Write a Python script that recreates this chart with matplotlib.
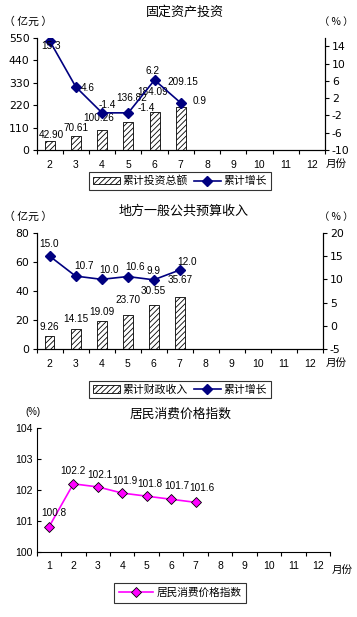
import matplotlib
matplotlib.use('Agg')
import matplotlib.pyplot as plt
from matplotlib.lines import Line2D
from matplotlib.patches import Patch

plt.rcParams['font.family'] = ['Liberation Sans', 'Noto Sans CJK SC', 'DejaVu Sans']
plt.rcParams['hatch.linewidth'] = 0.6
plt.rcParams['axes.linewidth'] = 0.8
plt.rcParams['axes.unicode_minus'] = False

# данные:固定资产投资
inv_months = ['2', '3', '4', '5', '6', '7', '8', '9', '10', '11', '12']
inv_total = [42.90, 70.61, 100.26, 136.82, 184.09, 209.15]
inv_growth = [15.3, 4.6, -1.4, -1.4, 6.2, 0.9]

# данные: 地方一般公共预算收入
rev_months = ['2', '3', '4', '5', '6', '7', '8', '9', '10', '11', '12']
rev_total = [9.26, 14.15, 19.09, 23.70, 30.55, 35.67]
rev_growth = [15.0, 10.7, 10.0, 10.6, 9.9, 12.0]

# данные: 居民消费价格指数
cpi_months = ['1', '2', '3', '4', '5', '6', '7', '8', '9', '10', '11', '12']
cpi_values = [100.8, 102.2, 102.1, 101.9, 101.8, 101.7, 101.6]

W, H = 357, 617
NAVY = '#000080'
MAG = '#FF00FF'
FS = 7.2
CJK = ['Noto Sans CJK SC', 'DejaVu Sans']
YTICK = {'family': 'DejaVu Sans', 'size': 7.8}

fig = plt.figure(figsize=(W / 100, H / 100), dpi=100)


def rect(x0, y0, x1, y1):
    return [x0 / W, 1 - y1 / H, (x1 - x0) / W, (y1 - y0) / H]


def ftext(x, y, s, **kw):
    fig.text(x / W, 1 - y / H, s, **kw)


def setup_cat_axis(ax, labels):
    n = len(labels)
    ax.set_xlim(-0.5, n - 0.5)
    ax.set_xticks([i - 0.5 for i in range(n + 1)])
    ax.set_xticklabels([])
    ax.set_xticks(range(n), minor=True)
    ax.set_xticklabels(labels, minor=True, fontsize=FS + 0.3)
    ax.tick_params(axis='x', which='major', direction='out', length=3, width=0.8)
    ax.tick_params(axis='x', which='minor', length=0, pad=7)


def style_yticks(ax):
    for lb in ax.get_yticklabels():
        lb.set_fontfamily(YTICK['family'])
        lb.set_fontsize(YTICK['size'])


def bar_line_chart(box, months, totals, growth, lmax, lstep, rmin, rmax, rstep,
                   bar_offs, line_offs, title, title_y, bar_name, leg_box):
    ax = fig.add_axes(rect(*box))
    x = range(len(totals))
    ax.bar(x, totals, width=0.38, color='white', edgecolor='black',
           hatch='//////', linewidth=0.6, zorder=2)
    setup_cat_axis(ax, months)
    ax.set_ylim(0, lmax)
    ax.set_yticks(range(0, lmax + 1, lstep))
    ax.tick_params(axis='y', length=3, width=0.8, pad=2)
    style_yticks(ax)
    ax.spines['top'].set_visible(False)
    for i, v in enumerate(totals):
        ax.annotate('%.2f' % v, (i, v), xytext=bar_offs[i], textcoords='offset pixels',
                    ha='center', va='center', fontsize=FS)

    ax2 = ax.twinx()
    ax2.plot(list(x), growth, color=NAVY, lw=1.2, marker='D', ms=5,
             mfc=NAVY, mec=NAVY, zorder=3)
    ax2.set_ylim(rmin, rmax)
    ax2.set_yticks(range(rmin, rmax + 1, rstep))
    ax2.tick_params(axis='y', length=3, width=0.8, pad=2)
    style_yticks(ax2)
    ax2.spines['top'].set_visible(False)
    for i, v in enumerate(growth):
        ax2.annotate('%.1f' % v, (i, v), xytext=line_offs[i], textcoords='offset pixels',
                     ha='center', va='center', fontsize=FS)

    ftext((box[0] + box[2]) / 2 + 4, title_y, title, ha='center', va='center',
          fontsize=9.4, family=CJK)
    ftext(28, box[1] - 16, '（ 亿元 ）', ha='center', va='center', fontsize=7.8, family=CJK)
    ftext(336, box[1] - 16, '（ % ）', ha='center', va='center', fontsize=7.4, family=CJK)
    ftext(336, box[3] + 14, '月份', ha='center', va='center', fontsize=7.6, family=CJK)

    handles = [Patch(facecolor='white', edgecolor='black', hatch='//////', lw=0.6),
               Line2D([], [], color=NAVY, lw=1.2, marker='D', ms=5, mfc=NAVY, mec=NAVY)]
    lx0, ly0, lx1, ly1 = leg_box
    leg = fig.legend(handles, [bar_name, '累计增长'], ncol=2, loc='center',
                     bbox_to_anchor=((lx0 + lx1) / 2 / W, 1 - (ly0 + ly1) / 2 / H),
                     prop={'family': CJK, 'size': 7.8}, frameon=True, fancybox=False,
                     edgecolor='black', handlelength=2.5, handletextpad=0.25,
                     columnspacing=0.5, borderpad=0.35, handleheight=0.7)
    leg.get_frame().set_linewidth(0.8)


# 固定资产投资
bar_line_chart((36.5, 37.7, 325, 150), inv_months, inv_total, inv_growth,
               550, 110, -10, 16, 4,
               [(2, 6), (0, 8), (-3, 12), (3, 24), (-2, 20), (2, 25)],
               [(1, -5), (12, -1), (5, 8), (18, 5), (-2, 9), (19, 2)],
               '固定资产投资', 12, '累计投资总额', (87, 170, 273, 192))

# 地方一般公共预算收入
bar_line_chart((36.5, 232.7, 323, 349.3), rev_months, rev_total, rev_growth,
               80, 20, -5, 20, 5,
               [(0, 9), (0, 10), (0, 9), (0, 15), (0, 14), (0, 17)],
               [(0, 12), (8, 10), (7, 9), (7, 10), (0, 9), (7, 8)],
               '地方一般公共预算收入', 211, '累计财政收入', (87, 378, 273, 401))

# 居民消费价格指数
ax3 = fig.add_axes(rect(36.7, 428.3, 330, 551.7))
ax3.plot(range(len(cpi_values)), cpi_values, color=MAG, lw=1.2, marker='D', ms=5.2,
         mfc=MAG, mec='black', mew=0.6, zorder=3)
setup_cat_axis(ax3, cpi_months)
ax3.set_ylim(100, 104)
ax3.set_yticks([100, 101, 102, 103, 104])
ax3.tick_params(axis='y', labelsize=7.6, direction='in', length=3, width=0.8, pad=3)
ax3.spines['top'].set_visible(False)
ax3.spines['right'].set_visible(False)
cpi_offs = [(5, 14), (0, 13), (2, 12), (3, 12), (3, 12), (6, 13), (6, 14)]
for i, v in enumerate(cpi_values):
    ax3.annotate('%.1f' % v, (i, v), xytext=cpi_offs[i], textcoords='offset pixels',
                 ha='center', va='center', fontsize=FS)
ftext(181, 414, '居民消费价格指数', ha='center', va='center', fontsize=9.2, family=CJK)
ftext(33, 412, '(%)', ha='center', va='center', fontsize=FS - 0.3)
ftext(342, 570, '月份', ha='center', va='center', fontsize=7.6, family=CJK)
leg3 = fig.legend([Line2D([], [], color=MAG, lw=1.2, marker='D', ms=5.2, mfc=MAG,
                          mec='black', mew=0.6)], ['居民消费价格指数'],
                  loc='center', bbox_to_anchor=(180 / W, 1 - 593 / H),
                  prop={'family': CJK, 'size': 7.7}, frameon=True, fancybox=False,
                  edgecolor='black', handlelength=3.2, handletextpad=0.3, borderpad=0.45)
leg3.get_frame().set_linewidth(0.8)

fig.savefig('out.png', dpi=100)
